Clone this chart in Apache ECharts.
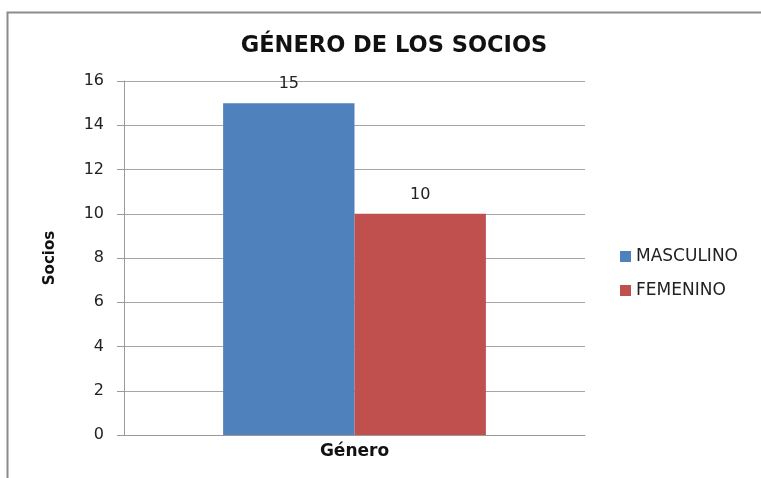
<!DOCTYPE html>
<html>
<head>
<meta charset="utf-8">
<script src="https://cdn.jsdelivr.net/npm/echarts@6/dist/echarts.min.js"></script>
<style>
html, body { margin: 0; padding: 0; background: #fff; }
#chart { width: 761px; height: 478px; }
</style>
</head>
<body>
<div id="chart"></div>
<script>
var categories = ['Género'];
var masculino = [15];
var femenino = [10];
var seriesNames = ['MASCULINO', 'FEMENINO'];

var font = 'DejaVu Sans';
var chart = echarts.init(document.getElementById('chart'));
var option = {
    animation: false,
    backgroundColor: '#fff',
    color: ['#4F81BD', '#C0504D'],
    textStyle: { fontFamily: font },
    graphic: [{
        type: 'rect',
        shape: { x: 7.5, y: 12.5, width: 800, height: 500 },
        style: { fill: 'none', stroke: '#8c8c8c', lineWidth: 2 }
    }],
    title: {
        text: 'GÉNERO DE LOS SOCIOS',
        left: 389,
        textAlign: 'center',
        top: 30,
        textStyle: { fontSize: 22.5, fontWeight: 'bold', color: '#111', fontFamily: font }
    },
    legend: {
        orient: 'vertical',
        left: 615,
        top: 243,
        itemWidth: 11,
        itemHeight: 11,
        itemGap: 17,
        icon: 'rect',
        textStyle: { fontSize: 17, color: '#222', fontFamily: font },
        data: seriesNames
    },
    grid: { left: 124, right: 176, top: 81, bottom: 43, containLabel: false },
    xAxis: {
        type: 'category',
        data: categories,
        axisLine: { lineStyle: { color: '#999' } },
        axisTick: { show: false },
        axisLabel: { fontSize: 17, fontWeight: 'bold', color: '#111', margin: 8 }
    },
    yAxis: {
        type: 'value',
        min: 0,
        max: 16,
        interval: 2,
        name: 'Socios',
        nameLocation: 'middle',
        nameGap: 66,
        nameRotate: 90,
        nameTextStyle: { fontSize: 15, fontWeight: 'bold', color: '#111' },
        axisLine: { show: true, lineStyle: { color: '#999' } },
        axisTick: { show: true, length: 7, lineStyle: { color: '#999' } },
        axisLabel: { fontSize: 16, color: '#222', margin: 20 },
        splitLine: { lineStyle: { color: '#a6a6a6' } }
    },
    series: [
        {
            name: seriesNames[0],
            type: 'bar',
            data: masculino,
            barGap: '0%',
            barCategoryGap: '43%',
            label: { show: true, position: 'top', distance: 11, fontSize: 16, color: '#222' }
        },
        {
            name: seriesNames[1],
            type: 'bar',
            data: femenino,
            label: { show: true, position: 'top', distance: 11, fontSize: 16, color: '#222' }
        }
    ]
};
chart.setOption(option);
</script>
</body>
</html>
